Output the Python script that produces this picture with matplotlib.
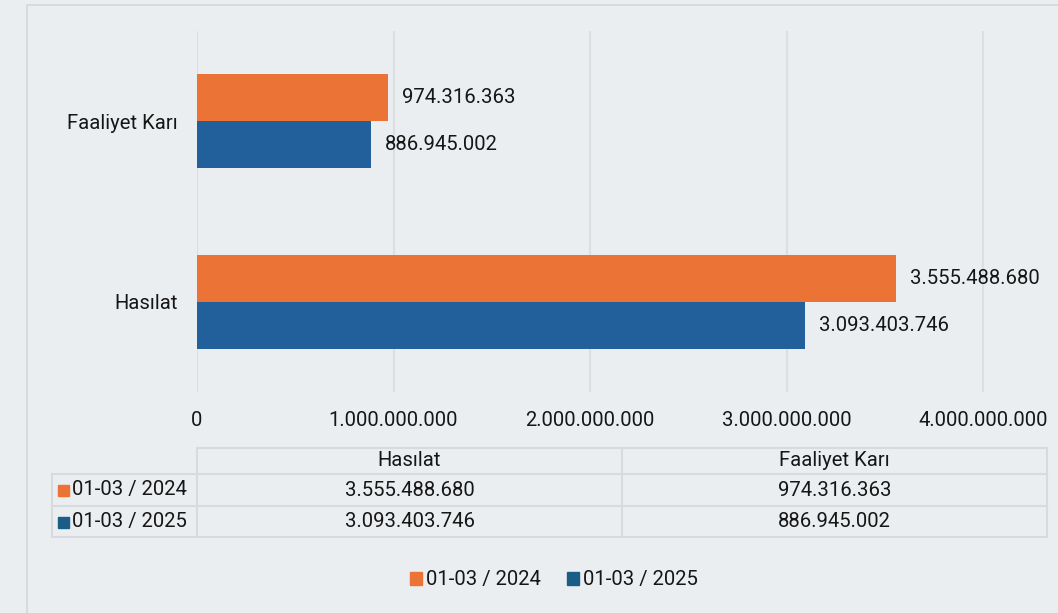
import numpy as np
import matplotlib.pyplot as plt
from matplotlib.patches import Patch, Rectangle

plt.rcParams['font.family'] = ['Roboto', 'DejaVu Sans']

# data
categories = ['Hasılat', 'Faaliyet Karı']
series_names = ['01-03 / 2024', '01-03 / 2025']
values_2024 = [3555488680, 974316363]
values_2025 = [3093403746, 886945002]
xticks = [0, 1e9, 2e9, 3e9, 4e9]

# colors
bg = '#ebeef0'
orange = '#ea7335'
blue = '#22609c'
blue_key = '#1a5e85'
grid_c = '#dcdfe1'
txt = '#161616'
FS = 14.6


def fmt(v):
    return f"{int(v):,}".replace(',', '.')


fig = plt.figure(figsize=(10.58, 6.13), dpi=100, facecolor=bg)
W, H = 1058, 613

# main bar axes
ax = fig.add_axes([197 / W, 1 - 392 / H, (1042 - 197) / W, (392 - 31) / H])
ax.set_facecolor(bg)
y = np.arange(len(categories))
h = 0.26
ax.barh(y + h / 2, values_2024, height=h, color=orange, zorder=3)
ax.barh(y - h / 2, values_2025, height=h, color=blue, zorder=3)

for yi, v in zip(y, values_2024):
    ax.annotate(fmt(v), (v, yi + h / 2), xytext=(10, 0), textcoords='offset points',
                va='center', ha='left', fontsize=FS, color=txt)
for yi, v in zip(y, values_2025):
    ax.annotate(fmt(v), (v, yi - h / 2), xytext=(10, 0), textcoords='offset points',
                va='center', ha='left', fontsize=FS, color=txt)

ax.set_xlim(0, 4.3e9)
ax.set_ylim(-0.5, 1.5)
ax.set_xticks(xticks)
ax.set_xticklabels([fmt(t) for t in xticks], fontsize=FS, color=txt)
ax.set_yticks(y)
ax.set_yticklabels(categories, fontsize=FS, color=txt)
ax.tick_params(length=0)
ax.tick_params(axis='x', pad=14)
ax.tick_params(axis='y', pad=14)
ax.grid(axis='x', color=grid_c, lw=1.5, zorder=0)
for s in ax.spines.values():
    s.set_visible(False)

# overlay in pixel coords: frame, table, legend
ov = fig.add_axes([0, 0, 1, 1])
ov.set_xlim(0, W)
ov.set_ylim(H, 0)
ov.axis('off')
ov.patch.set_alpha(0)

ov.plot([27, 27, W], [H, 5, 5], color='#d8dbdd', lw=1.5)

# table grid
col_x = [52, 197, 622, 1047]
row_y = [448, 474, 506, 537]
line_kw = dict(color='#d8dbdd', lw=1.5)
ov.plot([col_x[1], col_x[3]], [row_y[0], row_y[0]], **line_kw)
for ry in row_y[1:]:
    ov.plot([col_x[0], col_x[3]], [ry, ry], **line_kw)
ov.plot([col_x[0], col_x[0]], [row_y[1], row_y[3]], **line_kw)
for cx in col_x[1:]:
    ov.plot([cx, cx], [row_y[0], row_y[3]], **line_kw)

# header
for i, c in enumerate(categories):
    ov.text((col_x[i + 1] + col_x[i + 2]) / 2, (row_y[0] + row_y[1]) / 2, c,
            ha='center', va='center', fontsize=FS, color=txt)

table_rows = [values_2024, values_2025]
key_colors = [orange, blue_key]
for r, (name, vals, kc) in enumerate(zip(series_names, table_rows, key_colors)):
    cy = (row_y[r + 1] + row_y[r + 2]) / 2
    ov.add_patch(Rectangle((58, cy - 5), 11, 11, color=kc))
    ov.text(72, cy, name, ha='left', va='center', fontsize=FS, color=txt)
    for i, v in enumerate(vals):
        ov.text((col_x[i + 1] + col_x[i + 2]) / 2, cy, fmt(v),
                ha='center', va='center', fontsize=FS, color=txt)

# legend
handles = [Patch(color=orange), Patch(color=blue_key)]
fig.legend(handles, series_names, loc='center', bbox_to_anchor=(554 / W, 1 - 580 / H),
           ncol=2, frameon=False, fontsize=FS, handlelength=0.6, handleheight=0.6,
           handletextpad=0.2, columnspacing=1.3, labelcolor=txt)

fig.savefig('out.png', dpi=100, facecolor=bg)
